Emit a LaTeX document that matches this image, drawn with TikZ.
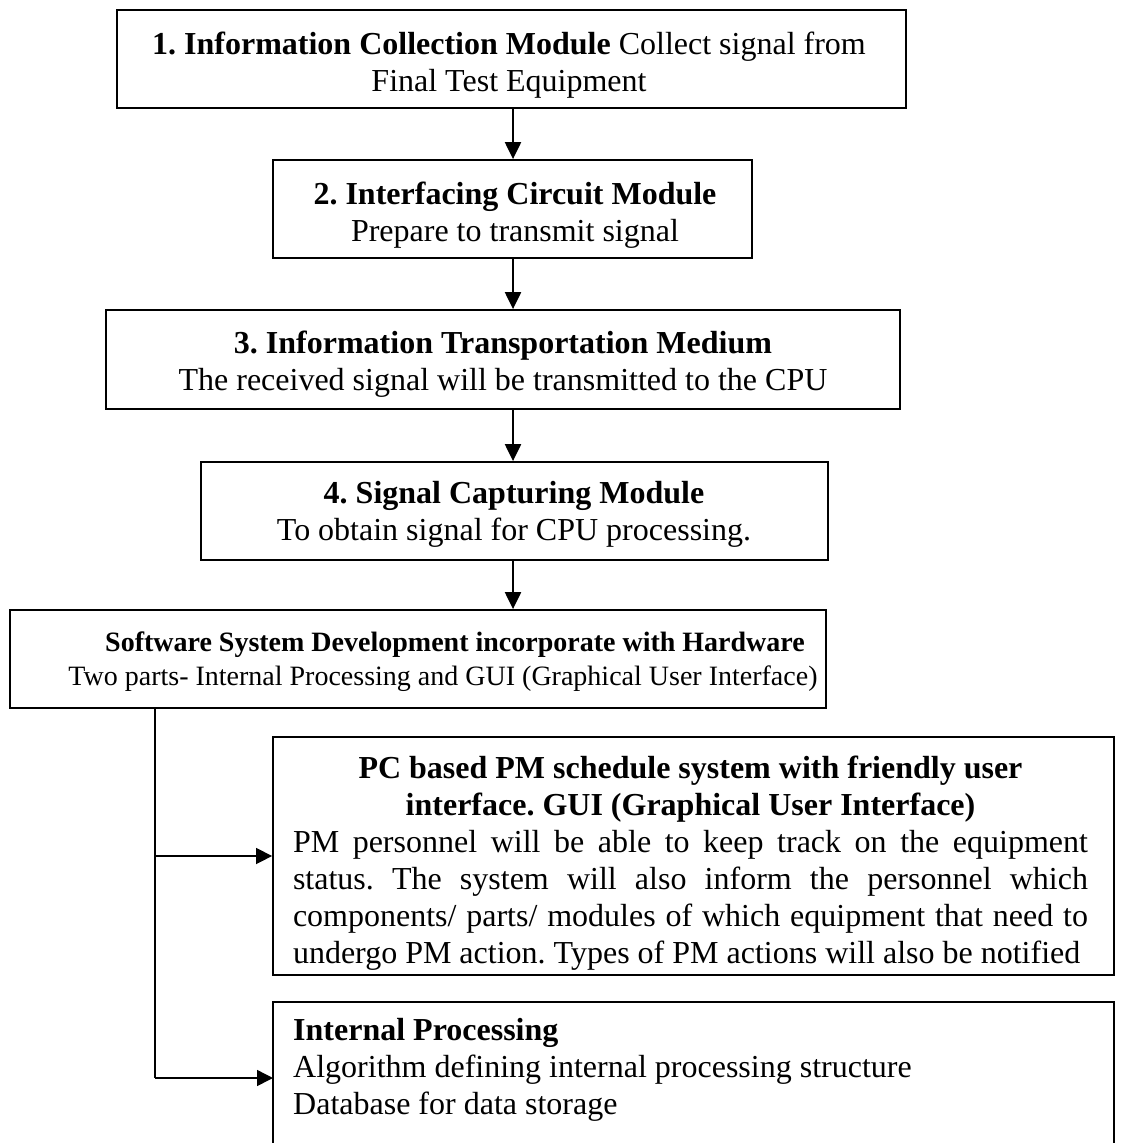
\documentclass[tikz,border=0pt]{standalone}
\usepackage{fontspec}
\setmainfont{Liberation Serif}
\usetikzlibrary{arrows.meta}
\frenchspacing
\begin{document}
\begin{tikzpicture}[x=1pt,y=-1pt,
  boxstyle/.style={draw, line width=1.8pt, inner sep=0pt},
  txt/.style={inner sep=0pt, align=center, font=\fontsize{32}{37}\selectfont},
  conn/.style={line width=2.2pt},
  arr/.style={conn, -{Triangle[length=17pt,width=16pt]}},
  barr/.style={line width=1.5pt, -{Triangle[length=16pt,width=16pt]}}]
\useasboundingbox (0,0) rectangle (1123,1143);
\coordinate (ax) at (513,0);
\coordinate (vx) at (155,0);

\node[boxstyle, minimum width=789pt, minimum height=98pt] (b1) at (511.5,59) {};
\node[txt] (t1) at (509,65.5)
  {\textbf{1. Information Collection Module} Collect signal from\\Final Test Equipment};
\node[boxstyle, minimum width=479pt, minimum height=98pt] (b2) at (512.5,209) {};
\node[txt] (t2) at (515,215.5)
  {\textbf{2. Interfacing Circuit Module}\\Prepare to transmit signal};
\node[boxstyle, minimum width=794pt, minimum height=99pt] (b3) at (503,359.5) {};
\node[txt] (t3) at (503,364.5)
  {\textbf{3. Information Transportation Medium}\\The received signal will be transmitted to the CPU};
\node[boxstyle, minimum width=627pt, minimum height=98pt] (b4) at (514.5,511) {};
\node[txt] (t4) at (514,514.5)
  {\textbf{4. Signal Capturing Module}\\To obtain signal for CPU processing.};
\node[boxstyle, minimum width=816pt, minimum height=98pt] (b5) at (418,659) {};
\node[txt, font=\fontsize{28}{34}\selectfont] (t5) at (443,661.5)
  {\hspace*{24pt}\textbf{Software System Development incorporate with Hardware}\\Two parts- Internal Processing and GUI (Graphical User Interface)};
\node[boxstyle, minimum width=841pt, minimum height=238pt] (b6) at (693.5,856) {};
\node[txt, text width=795pt, align=justify] (t6) at (690.5,863.5)
  {{\centering\bfseries PC based PM schedule system with friendly user\\ interface. GUI (Graphical User Interface)\par}
  PM personnel will be able to keep track on the equipment\linebreak
  status. The system will also inform the personnel which\linebreak
  components/ parts/ modules of which equipment that need to\linebreak
  undergo PM action. Types of PM actions will also be notified\par};
\node[boxstyle, minimum width=841pt, minimum height=160pt] (b7) at (693.5,1082) {};
\node[txt, anchor=north west, align=left] (t7) at (293,1018)
  {\textbf{Internal Processing}\\Algorithm defining internal processing structure\\Database for data storage};
\coordinate (b7w) at (273,1078);

\draw[arr] (b1.south -| ax) -- (b2.north -| ax);
\draw[arr] (b2.south -| ax) -- (b3.north -| ax);
\draw[arr] (b3.south -| ax) -- (b4.north -| ax);
\draw[arr] (b4.south -| ax) -- (b5.north -| ax);
\draw[line width=1.5pt] (b5.south -| vx) -- (vx |- b7w);
\draw[barr] (vx |- b7w) -- (b7w);
\draw[barr] (vx |- b6.west) -- (b6.west);
\end{tikzpicture}
\end{document}
